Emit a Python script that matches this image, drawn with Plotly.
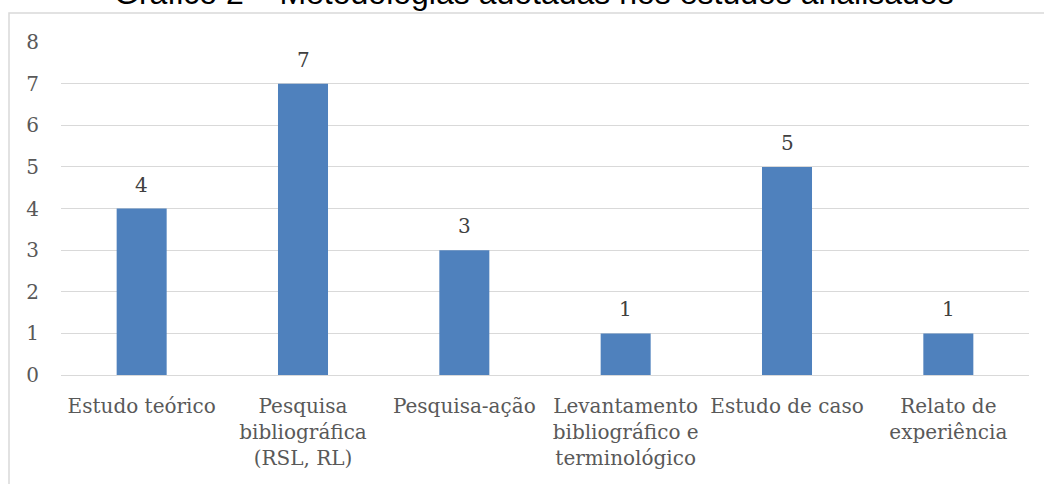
import plotly.graph_objects as go

categories = ["Estudo teórico", "Pesquisa<br>bibliográfica<br>(RSL, RL)", "Pesquisa-ação",
              "Levantamento<br>bibliográfico e<br>terminológico", "Estudo de caso", "Relato de<br>experiência"]
values = [4, 7, 3, 1, 5, 1]
y_ticks = [0, 1, 2, 3, 4, 5, 6, 7, 8]
title_text = "Gráfico 2 – Metodologias adotadas nos estudos analisados"

W, H = 1044, 484
L, R, T, B = 61, 15, 42, 109
ph = H - T - B
pw = W - L - R

serif = "DejaVu Serif"
fig = go.Figure(go.Bar(
    x=categories, y=values, marker=dict(color="#4F81BD", line=dict(width=0)),
))
for c, v in zip(categories, values):
    fig.add_annotation(x=c, y=v, text=str(v), showarrow=False, yanchor="bottom", yshift=10,
                       font=dict(family=serif, size=20, color="#404040"))
fig.update_layout(
    width=W, height=H, margin=dict(l=L, r=R, t=T, b=B),
    paper_bgcolor="white", plot_bgcolor="white", bargap=0.69, showlegend=False,
    font=dict(family=serif, size=20, color="#595959"),
)
fig.update_yaxes(range=[0, 8], tickvals=y_ticks, showgrid=True, gridcolor="#D9D9D9", gridwidth=1,
                 zeroline=False, showline=False, ticks="", ticklabelstandoff=21,
                 tickfont=dict(family=serif, size=20, color="#595959"))
fig.update_xaxes(showline=True, linecolor="#D9D9D9", linewidth=1, ticks="", ticklabelstandoff=13,
                 tickfont=dict(family=serif, size=20, color="#595959"))
# outer chart border
fig.add_shape(type="rect", xref="paper", yref="paper",
              x0=(9 - L) / pw, x1=1.2, y0=-0.6, y1=1 + (T - 13) / ph,
              line=dict(color="#D9D9D9", width=1.5), fillcolor="rgba(0,0,0,0)", layer="below")
fig.add_annotation(text=title_text, xref="paper", yref="paper", x=(534 - L) / pw,
                   y=1 + (T - 13) / ph,
                   xanchor="center", yanchor="bottom", showarrow=False,
                   font=dict(family="Liberation Sans", size=32, color="black"))
fig.write_html("out.html", config={"displayModeBar": False},
               post_script="document.body.style.margin='0';")
